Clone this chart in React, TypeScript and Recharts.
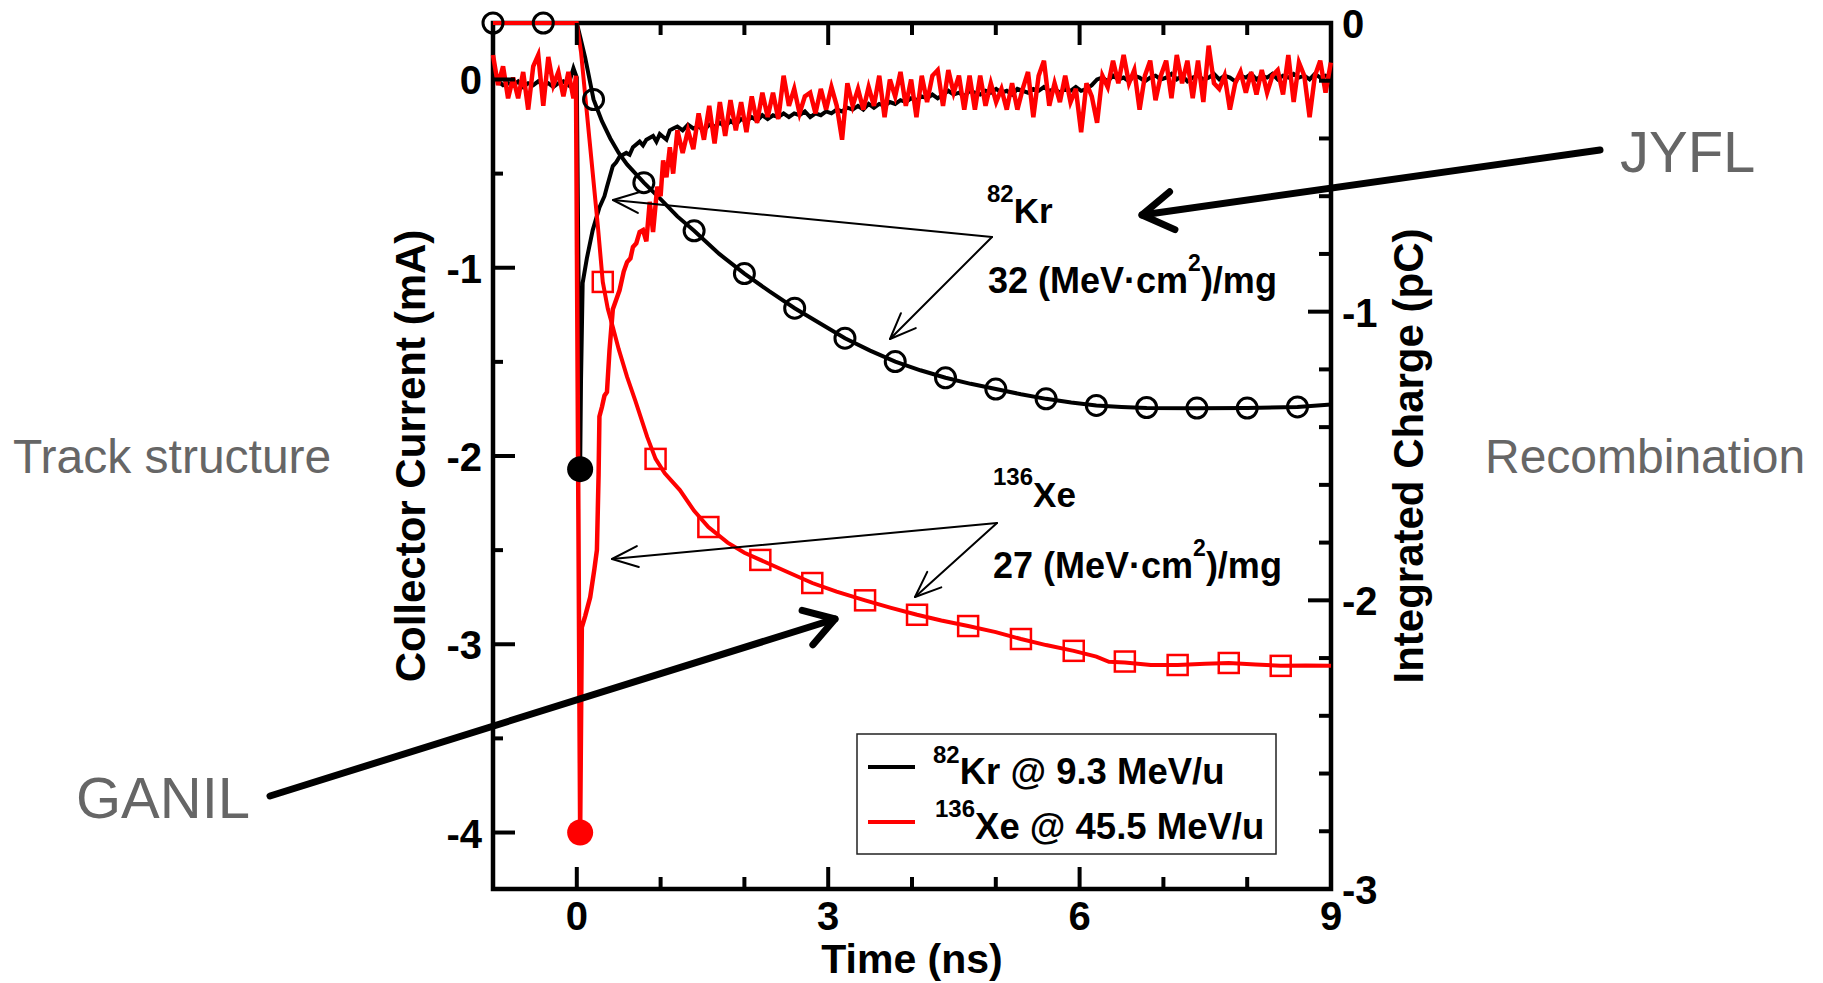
import { ComposedChart, Line, Scatter, XAxis, YAxis, ReferenceArea } from 'recharts';

const W = 1823;
const H = 983;
// plot frame in page pixels
const LEFT = 493;
const RIGHT = 1331;
const TOP = 23;
const BOTTOM = 889;

const FONT = '"Liberation Sans", Arial, Helvetica, sans-serif';
const RED = '#ff0000';
const GRAY = '#666666';

const X_TICKS = [-1, 0, 1, 2, 3, 4, 5, 6, 7, 8, 9];
const X_LABELS = [0, 3, 6, 9];
const CUR_TICKS = [-4, -3.5, -3, -2.5, -2, -1.5, -1, -0.5, 0];
const CHG_TICKS = [0, -0.2, -0.4, -0.6, -0.8, -1, -1.2, -1.4, -1.6, -1.8, -2, -2.2, -2.4, -2.6, -2.8, -3];

// collector current (mA), scope samples before the trigger
const PRE_START = -1;
const PRE_STEP = 0.06;
const KR_PRE = [0.02, -0.01, -0.03, -0.02, -0.03, -0.01, -0.04, -0.02, -0.03, -0.01, -0.03, -0.02, -0.04, -0.02, -0.01, -0.03, 0.06];
const XE_PRE = [0.13, -0.03, 0.07, -0.1, 0.01, -0.1, 0.04, -0.16, 0.07, 0.13, -0.14, 0.12, -0.03, 0.04, -0.09, 0.04, -0.1];

// the pulse itself, read point by point [ns, mA]
const KR_PULSE = [
  [0.0, 0.01], [0.04, -2.07], [0.05, -1.61], [0.07, -1.08], [0.12, -0.95], [0.19, -0.8],
  [0.27, -0.68], [0.33, -0.62], [0.36, -0.57], [0.43, -0.46], [0.47, -0.44], [0.51, -0.41],
  [0.59, -0.39], [0.63, -0.4], [0.67, -0.36], [0.75, -0.33], [0.79, -0.35], [0.83, -0.32],
  [0.91, -0.3], [0.95, -0.33], [0.99, -0.29], [1.07, -0.32], [1.11, -0.27], [1.15, -0.26],
];
const XE_PULSE = [
  [-0.01, 0.02], [0.04, -4.0], [0.06, -2.91], [0.1, -2.85], [0.16, -2.75], [0.21, -2.6],
  [0.24, -2.5], [0.26, -2.1], [0.27, -1.79], [0.3, -1.74], [0.33, -1.68], [0.36, -1.66],
  [0.39, -1.44], [0.43, -1.22], [0.47, -1.17], [0.51, -1.12], [0.56, -1.02], [0.6, -0.97],
  [0.64, -0.95], [0.67, -0.89], [0.71, -0.87], [0.75, -0.81], [0.79, -0.8], [0.83, -0.86],
  [0.87, -0.65], [0.91, -0.81], [0.96, -0.57], [1.0, -0.62], [1.03, -0.43], [1.07, -0.52],
  [1.11, -0.36], [1.15, -0.5],
];

// tail samples after the pulse
const TAIL_START = 1.2;
const TAIL_STEP = 0.0634;
const KR_TAIL = [
  -0.25, -0.27, -0.24, -0.26, -0.25, -0.27, -0.24, -0.25, -0.23, -0.25,
  -0.22, -0.24, -0.21, -0.22, -0.2, -0.22, -0.19, -0.21, -0.19, -0.2,
  -0.18, -0.2, -0.18, -0.19, -0.17, -0.2, -0.18, -0.19, -0.17, -0.18,
  -0.16, -0.17, -0.15, -0.16, -0.14, -0.16, -0.13, -0.15, -0.13, -0.14,
  -0.12, -0.13, -0.11, -0.12, -0.1, -0.11, -0.09, -0.1, -0.08, -0.1,
  -0.08, -0.06, -0.08, -0.07, -0.09, -0.06, -0.07, -0.08, -0.06, -0.07,
  -0.05, -0.07, -0.06, -0.08, -0.05, -0.06, -0.07, -0.05, -0.06, -0.04,
  -0.06, -0.05, -0.07, -0.05, -0.06, -0.04, -0.06, -0.05, -0.03, 0.0,
  0.01, -0.01, 0.02, 0.0, 0.01, -0.01, 0.02, 0.01, -0.01, 0.01,
  0.02, 0.0, 0.01, 0.03, 0.0, 0.02, -0.01, 0.01, 0.02, 0.0,
  0.01, 0.03, 0.0, 0.02, 0.01, -0.01, 0.02, 0.01, 0.03, 0.0,
  0.02, 0.01, 0.03, 0.0, 0.02, 0.01, 0.03, 0.01, 0.02, 0.0,
  0.03, 0.01, 0.02, 0.01,
];
const XE_TAIL = [
  -0.27, -0.39, -0.27, -0.37, -0.18, -0.32, -0.14, -0.34, -0.12, -0.3,
  -0.11, -0.27, -0.12, -0.28, -0.09, -0.23, -0.07, -0.2, -0.07, -0.21,
  0.02, -0.14, -0.05, -0.18, -0.09, -0.07, -0.18, -0.05, -0.16, -0.04,
  -0.14, -0.32, -0.02, -0.14, -0.05, -0.16, -0.04, -0.14, 0.02, -0.2,
  0.0, -0.09, 0.04, -0.14, 0.0, -0.2, 0.02, -0.12, 0.02, 0.05,
  -0.14, 0.05, -0.07, 0.02, -0.16, 0.02, -0.16, 0.02, -0.14, -0.02,
  -0.12, -0.05, -0.16, -0.02, -0.16, -0.05, 0.04, -0.2, 0.02, 0.1,
  -0.14, -0.02, -0.12, 0.02, -0.12, -0.05, -0.28, -0.02, -0.09, -0.23,
  0.02, -0.04, 0.1, -0.02, 0.13, -0.02, 0.05, -0.16, 0.02, 0.1,
  -0.11, 0.02, 0.1, -0.1, 0.13, -0.02, 0.1, -0.1, 0.1, -0.12,
  0.18, -0.02, -0.05, 0.02, -0.16, -0.02, 0.04, -0.07, 0.04, -0.08,
  0.05, -0.07, 0.02, 0.05, -0.08, 0.13, -0.12, 0.09, 0.02, -0.2,
  0.02, 0.1, -0.07, 0.09,
];

// peak of each current pulse
const KR_PEAK = [[0.04, -2.07]];
const XE_PEAK = [[0.04, -4.0]];

// integrated charge (pC)
const KR_CHARGE = [
  [-1, 0], [0, 0], [0.05, -0.06], [0.1, -0.12], [0.2, -0.265], [0.3, -0.34], [0.4, -0.4],
  [0.5, -0.45], [0.6, -0.49], [0.8, -0.553], [1.0, -0.61], [1.2, -0.67], [1.4, -0.72],
  [1.7, -0.8], [2.0, -0.868], [2.3, -0.93], [2.6, -0.988], [2.9, -1.04], [3.2, -1.092],
  [3.5, -1.135], [3.8, -1.173], [4.1, -1.203], [4.4, -1.229], [4.7, -1.25], [5.0, -1.268],
  [5.3, -1.286], [5.6, -1.302], [5.9, -1.315], [6.2, -1.325], [6.5, -1.33], [6.8, -1.334],
  [7.4, -1.335], [8.0, -1.334], [8.6, -1.33], [9.0, -1.322],
];
const XE_CHARGE = [
  [-1, 0], [0, 0], [0.05, -0.1], [0.15, -0.4], [0.25, -0.7], [0.31, -0.897], [0.37, -0.99],
  [0.43, -1.053], [0.5, -1.13], [0.6, -1.226], [0.7, -1.31], [0.84, -1.434], [0.94, -1.51],
  [1.05, -1.56], [1.23, -1.618], [1.4, -1.69], [1.57, -1.746], [1.8, -1.8], [2.0, -1.835],
  [2.19, -1.86], [2.5, -1.9], [2.81, -1.94], [3.1, -1.97], [3.44, -2.0], [3.75, -2.026],
  [4.06, -2.05], [4.35, -2.07], [4.67, -2.089], [5.0, -2.11], [5.3, -2.134], [5.6, -2.155],
  [5.93, -2.175], [6.2, -2.195], [6.35, -2.213], [6.54, -2.215], [6.85, -2.224], [7.17, -2.224],
  [7.5, -2.22], [7.78, -2.217], [8.1, -2.222], [8.4, -2.227], [8.7, -2.226], [9.0, -2.227],
];
const KR_MARK_T = [-1, -0.4, 0.2, 0.8, 1.4, 2.0, 2.6, 3.2, 3.8, 4.4, 5.0, 5.6, 6.2, 6.8, 7.4, 8.0, 8.6];
const KR_MARK_Q = [0, 0, -0.265, -0.553, -0.72, -0.868, -0.988, -1.092, -1.173, -1.229, -1.268, -1.302, -1.325, -1.332, -1.334, -1.334, -1.33];
const XE_MARK_T = [0.31, 0.94, 1.57, 2.19, 2.81, 3.44, 4.06, 4.67, 5.3, 5.93, 6.54, 7.17, 7.78, 8.4];
const XE_MARK_Q = [-0.897, -1.51, -1.746, -1.86, -1.94, -2.0, -2.05, -2.089, -2.134, -2.175, -2.212, -2.224, -2.217, -2.227];

const pairs = (rows: number[][]) => rows.map(([t, v]) => ({ t, v }));
const sampled = (vals: number[], start: number, step: number) =>
  vals.map((v, i) => ({ t: start + i * step, v }));

const krCurrent = [...sampled(KR_PRE, PRE_START, PRE_STEP), ...pairs(KR_PULSE), ...sampled(KR_TAIL, TAIL_START, TAIL_STEP)];
const xeCurrent = [...sampled(XE_PRE, PRE_START, PRE_STEP), ...pairs(XE_PULSE), ...sampled(XE_TAIL, TAIL_START, TAIL_STEP)];
const krMarks = KR_MARK_T.map((t, i) => ({ t, v: KR_MARK_Q[i] }));
const xeMarks = XE_MARK_T.map((t, i) => ({ t, v: XE_MARK_Q[i] }));

const labelStyle = { fontFamily: FONT, fontWeight: 700, fontSize: 40, fill: '#000' };

function BottomTick({ x, payload }: any) {
  const v = payload.value;
  const major = X_LABELS.includes(v);
  const len = major ? 22 : 12;
  const edge = v === -1 || v === 9;
  return (
    <g>
      {!edge && <line x1={x} x2={x} y1={BOTTOM} y2={BOTTOM - len} stroke="#000" strokeWidth={4} />}
      {!edge && <line x1={x} x2={x} y1={TOP} y2={TOP + len} stroke="#000" strokeWidth={4} />}
      {major && (
        <text x={x} y={930} textAnchor="middle" style={labelStyle}>
          {v}
        </text>
      )}
    </g>
  );
}

function LeftTick({ y, payload }: any) {
  const v = payload.value;
  const major = Number.isInteger(v);
  return (
    <g>
      <line x1={LEFT} x2={LEFT + (major ? 22 : 10)} y1={y} y2={y} stroke="#000" strokeWidth={4} />
      {major && (
        <text x={482} y={y + 15} textAnchor="end" style={labelStyle}>
          {v}
        </text>
      )}
    </g>
  );
}

function RightTick({ y, payload }: any) {
  const v = payload.value;
  const major = Number.isInteger(v);
  const edge = v === 0 || v === -3;
  return (
    <g>
      {!edge && <line x1={RIGHT} x2={RIGHT - (major ? 23 : 12)} y1={y} y2={y} stroke="#000" strokeWidth={4} />}
      {major && (
        <text x={1342} y={y + 15} textAnchor="start" style={labelStyle}>
          {v}
        </text>
      )}
    </g>
  );
}

function Arrow({ x1, y1, x2, y2, w, head, angle }: any) {
  const a = Math.atan2(y1 - y2, x1 - x2);
  const r = (angle * Math.PI) / 180;
  const p1 = [x2 + head * Math.cos(a + r), y2 + head * Math.sin(a + r)];
  const p2 = [x2 + head * Math.cos(a - r), y2 + head * Math.sin(a - r)];
  return (
    <g stroke="#000" strokeWidth={w} strokeLinecap="round" strokeLinejoin="round" fill="none">
      <line x1={x1} y1={y1} x2={x2} y2={y2} />
      <polyline points={`${p1[0]},${p1[1]} ${x2},${y2} ${p2[0]},${p2[1]}`} />
    </g>
  );
}

function Annotations() {
  const bold = { fontFamily: FONT, fontWeight: 700, fill: '#000' };
  const side = { fontFamily: FONT, fill: GRAY };
  return (
    <svg width={W} height={H} style={{ position: 'absolute', left: 0, top: 0, pointerEvents: 'none' }}>
      <text x={425} y={456} textAnchor="middle" transform="rotate(-90 425 456)" style={{ ...bold, fontSize: 42 }}>
        Collector Current (mA)
      </text>
      <text x={1423} y={456} textAnchor="middle" transform="rotate(-90 1423 456)" style={{ ...bold, fontSize: 42 }}>
        Integrated Charge (pC)
      </text>
      <text x={912} y={973} textAnchor="middle" style={{ ...bold, fontSize: 41 }}>
        Time (ns)
      </text>

      <text x={13} y={473} style={{ ...side, fontSize: 48 }}>Track structure</text>
      <text x={1485} y={473} style={{ ...side, fontSize: 48 }}>Recombination</text>
      <text x={1620} y={172} style={{ ...side, fontSize: 58 }}>JYFL</text>
      <text x={76} y={818} style={{ ...side, fontSize: 58 }}>GANIL</text>

      <Arrow x1={1600} y1={150} x2={1142} y2={215} w={7} head={36} angle={32} />
      <Arrow x1={270} y1={796} x2={835} y2={619} w={7} head={34} angle={32} />

      <Arrow x1={992} y1={237} x2={613} y2={200} w={2} head={28} angle={22} />
      <Arrow x1={992} y1={237} x2={890} y2={339} w={2} head={28} angle={22} />
      <Arrow x1={997} y1={523} x2={612} y2={559} w={2} head={28} angle={22} />
      <Arrow x1={997} y1={523} x2={915} y2={597} w={2} head={28} angle={22} />

      <text x={987} y={223} style={bold}>
        <tspan fontSize={24} dy={-21}>82</tspan>
        <tspan fontSize={35} dy={21}>Kr</tspan>
      </text>
      <text x={988} y={293} style={{ ...bold, fontSize: 36 }}>
        32 (MeV·cm<tspan fontSize={23} dy={-22}>2</tspan>
        <tspan dy={22}>)/mg</tspan>
      </text>
      <text x={993} y={507} style={bold}>
        <tspan fontSize={24} dy={-22}>136</tspan>
        <tspan fontSize={35} dy={22}>Xe</tspan>
      </text>
      <text x={993} y={578} style={{ ...bold, fontSize: 36 }}>
        27 (MeV·cm<tspan fontSize={23} dy={-22}>2</tspan>
        <tspan dy={22}>)/mg</tspan>
      </text>

      <rect x={857} y={734} width={419} height={120} fill="#fff" stroke="#222" strokeWidth={1.5} />
      <line x1={868} x2={915} y1={767} y2={767} stroke="#000" strokeWidth={4} />
      <line x1={868} x2={915} y1={822} y2={822} stroke={RED} strokeWidth={4} />
      <text x={933} y={784} style={bold}>
        <tspan fontSize={24} dy={-21}>82</tspan>
        <tspan fontSize={36.5} dy={21}>Kr @ 9.3 MeV/u</tspan>
      </text>
      <text x={935} y={839} style={bold}>
        <tspan fontSize={24} dy={-22}>136</tspan>
        <tspan fontSize={36.5} dy={22}>Xe @ 45.5 MeV/u</tspan>
      </text>
    </svg>
  );
}

const YW = 100;
const XH = 60;

export default function App() {
  return (
    <div style={{ position: 'absolute', left: 0, top: 0, width: W, height: H, background: '#fff' }}>
      <ComposedChart
        width={W}
        height={H}
        margin={{ top: TOP, left: LEFT - YW, right: W - RIGHT - YW, bottom: H - BOTTOM - XH }}
      >
        <XAxis
          dataKey="t"
          type="number"
          domain={[-1, 9]}
          ticks={X_TICKS}
          interval={0}
          height={XH}
          axisLine={false}
          tickLine={false}
          tick={(p: any) => <BottomTick {...p} />}
        />
        <YAxis
          yAxisId="cur"
          dataKey="v"
          type="number"
          domain={[-4.3, 0.3]}
          ticks={CUR_TICKS}
          interval={0}
          width={YW}
          axisLine={false}
          tickLine={false}
          tick={(p: any) => <LeftTick {...p} />}
        />
        <YAxis
          yAxisId="chg"
          orientation="right"
          dataKey="v"
          type="number"
          domain={[-3, 0]}
          ticks={CHG_TICKS}
          interval={0}
          width={YW}
          axisLine={false}
          tickLine={false}
          tick={(p: any) => <RightTick {...p} />}
        />
        <Line yAxisId="cur" data={krCurrent} dataKey="v" type="linear" stroke="#000" strokeWidth={4} dot={false} isAnimationActive={false} />
        <Line yAxisId="chg" data={pairs(KR_CHARGE)} dataKey="v" type="linear" stroke="#000" strokeWidth={4} dot={false} isAnimationActive={false} />
        <Line yAxisId="chg" data={pairs(XE_CHARGE)} dataKey="v" type="linear" stroke={RED} strokeWidth={4} dot={false} isAnimationActive={false} />
        <Line yAxisId="cur" data={xeCurrent} dataKey="v" type="linear" stroke={RED} strokeWidth={4.5} dot={false} isAnimationActive={false} />
        <Scatter
          yAxisId="chg"
          data={krMarks}
          dataKey="v"
          isAnimationActive={false}
          shape={(p: any) => <circle cx={p.cx} cy={p.cy} r={10} fill="none" stroke="#000" strokeWidth={3} />}
        />
        <Scatter
          yAxisId="chg"
          data={xeMarks}
          dataKey="v"
          isAnimationActive={false}
          shape={(p: any) => <rect x={p.cx - 10} y={p.cy - 10} width={20} height={20} fill="none" stroke={RED} strokeWidth={2.5} />}
        />
        <Scatter
          yAxisId="cur"
          data={pairs(KR_PEAK)}
          dataKey="v"
          isAnimationActive={false}
          shape={(p: any) => <circle cx={p.cx} cy={p.cy} r={13} fill="#000" />}
        />
        <Scatter
          yAxisId="cur"
          data={pairs(XE_PEAK)}
          dataKey="v"
          isAnimationActive={false}
          shape={(p: any) => <circle cx={p.cx} cy={p.cy} r={13} fill={RED} />}
        />
        <ReferenceArea
          yAxisId="cur"
          x1={-1}
          x2={9}
          y1={-4.3}
          y2={0.3}
          fill="none"
          stroke="#000"
          strokeWidth={4.5}
          fillOpacity={0}
          ifOverflow="visible"
        />
      </ComposedChart>
      <Annotations />
    </div>
  );
}
